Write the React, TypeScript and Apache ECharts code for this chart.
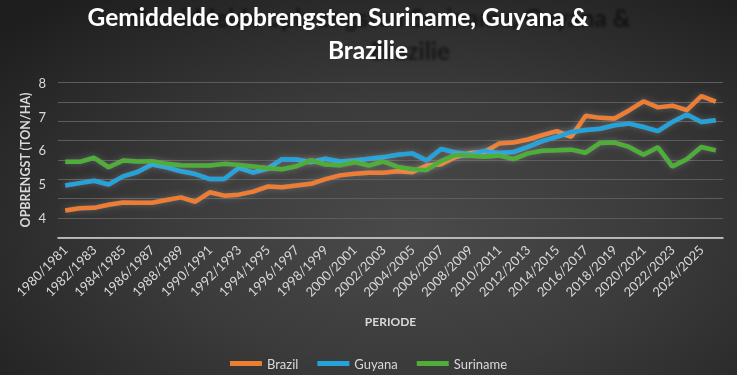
import React, { useEffect, useRef } from 'react';
import * as echarts from 'echarts';

const periods = [
  '1980/1981', '1981/1982', '1982/1983', '1983/1984', '1984/1985', '1985/1986',
  '1986/1987', '1987/1988', '1988/1989', '1989/1990', '1990/1991', '1991/1992',
  '1992/1993', '1993/1994', '1994/1995', '1995/1996', '1996/1997', '1997/1998',
  '1998/1999', '1999/2000', '2000/2001', '2001/2002', '2002/2003', '2003/2004',
  '2004/2005', '2005/2006', '2006/2007', '2007/2008', '2008/2009', '2009/2010',
  '2010/2011', '2011/2012', '2012/2013', '2013/2014', '2014/2015', '2015/2016',
  '2016/2017', '2017/2018', '2018/2019', '2019/2020', '2020/2021', '2021/2022',
  '2022/2023', '2023/2024', '2024/2025', '2025/2026',
];

const brazil = [
  4.22, 4.29, 4.30, 4.39, 4.46, 4.45, 4.45, 4.53, 4.61, 4.48,
  4.76, 4.66, 4.69, 4.78, 4.93, 4.91, 4.96, 5.01, 5.15, 5.26,
  5.31, 5.34, 5.34, 5.38, 5.35, 5.55, 5.59, 5.80, 5.92, 5.95,
  6.20, 6.23, 6.32, 6.45, 6.57, 6.40, 7.02, 6.96, 6.94, 7.18,
  7.45, 7.27, 7.32, 7.19, 7.60, 7.44,
];

const guyana = [
  4.96, 5.03, 5.10, 4.99, 5.23, 5.36, 5.58, 5.50, 5.38, 5.30,
  5.15, 5.15, 5.48, 5.34, 5.46, 5.74, 5.73, 5.65, 5.75, 5.67,
  5.70, 5.75, 5.80, 5.87, 5.91, 5.70, 6.04, 5.94, 5.88, 5.98,
  5.92, 5.95, 6.10, 6.27, 6.40, 6.54, 6.60, 6.64, 6.74, 6.79,
  6.69, 6.57, 6.84, 7.06, 6.84, 6.89,
];

const suriname = [
  5.66, 5.66, 5.78, 5.50, 5.70, 5.67, 5.68, 5.60, 5.56, 5.55,
  5.55, 5.60, 5.57, 5.52, 5.47, 5.44, 5.53, 5.71, 5.58, 5.56,
  5.65, 5.55, 5.67, 5.51, 5.44, 5.42, 5.68, 5.86, 5.85, 5.81,
  5.85, 5.74, 5.91, 5.99, 6.00, 6.02, 5.93, 6.22, 6.23, 6.10,
  5.87, 6.09, 5.52, 5.74, 6.10, 6.00,
];

const yTickLabels = [4, 5, 6, 7, 8];

const FONT = 'Lato, "Open Sans", sans-serif';

export default function App() {
  const ref = useRef<HTMLDivElement>(null);

  useEffect(() => {
    const chart = echarts.init(ref.current as HTMLDivElement, null, { renderer: 'svg' });
    const mk = (name: string, data: number[], color: string) => ({
      name,
      type: 'line',
      data,
      symbol: 'none',
      showSymbol: false,
      lineStyle: {
        width: 4.5,
        color,
        shadowBlur: 6,
        shadowColor: 'rgba(255,255,255,0.22)',
      },
      itemStyle: { color },
    });
    const titleStyle = {
      fill: '#ffffff',
      font: `bold 24.5px ${FONT}`,
      align: 'center',
      verticalAlign: 'middle',
      textShadowColor: 'rgba(0,0,0,0.55)',
      textShadowBlur: 3,
      textShadowOffsetX: 42,
      textShadowOffsetY: 1,
    };
    chart.setOption({
      animation: false,
      backgroundColor: 'transparent',
      textStyle: { fontFamily: FONT },
      graphic: [
        {
          type: 'text',
          x: 338,
          y: 16,
          style: { ...titleStyle, text: 'Gemiddelde opbrengsten Suriname, Guyana &' },
        },
        {
          type: 'text',
          x: 368,
          y: 49,
          style: { ...titleStyle, text: 'Brazilie' },
        },
      ],
      grid: { left: 58, right: 14, top: 82.7, bottom: 137.7, containLabel: false },
      legend: {
        top: 352,
        left: 'center',
        icon: 'rect',
        itemWidth: 32,
        itemHeight: 5,
        itemGap: 19,
        textStyle: { color: '#d9d9d9', fontSize: 13, fontFamily: FONT },
        data: ['Brazil', 'Guyana', 'Suriname'],
      },
      xAxis: {
        type: 'category',
        data: periods,
        boundaryGap: true,
        name: 'PERIODE',
        nameLocation: 'middle',
        nameGap: 78,
        nameTextStyle: { color: '#d9d9d9', fontWeight: 'bold', fontSize: 12, fontFamily: FONT },
        axisLine: { show: true, lineStyle: { color: '#d9d9d9', width: 1.5 } },
        axisTick: { show: false },
        axisLabel: {
          interval: 1,
          rotate: 45,
          margin: 10,
          color: '#d9d9d9',
          fontSize: 13,
          fontFamily: FONT,
        },
        splitLine: { show: false },
      },
      yAxis: {
        type: 'value',
        min: 24 / 7,
        max: 8,
        interval: 4 / 7,
        name: 'OPBRENGST (TON/HA)',
        nameLocation: 'middle',
        nameGap: 26,
        nameMoveOverlap: false,
        nameTextStyle: { color: '#d9d9d9', fontWeight: 'bold', fontSize: 12.5, fontFamily: FONT },
        axisLine: { show: false },
        axisTick: { show: false },
        axisLabel: {
          customValues: yTickLabels,
          color: '#d9d9d9',
          fontSize: 13,
          margin: 12,
          fontFamily: FONT,
          formatter: (v: number) => String(Math.round(v)),
        },
        splitLine: { show: true, lineStyle: { color: '#5c5c5c', width: 1 } },
      },
      series: [
        mk('Brazil', brazil, '#ED7D31'),
        mk('Guyana', guyana, '#23A3DA'),
        mk('Suriname', suriname, '#4EAE37'),
      ],
    });
    return () => chart.dispose();
  }, []);

  return (
    <div
      ref={ref}
      style={{
        position: 'fixed',
        left: 0,
        top: 0,
        width: 737,
        height: 375,
        background:
          'radial-gradient(ellipse 75% 80% at 56% 62%, #4a4a4a 0%, #3b3b3b 45%, #262626 85%, #1e1e1e 100%)',
      }}
    />
  );
}
